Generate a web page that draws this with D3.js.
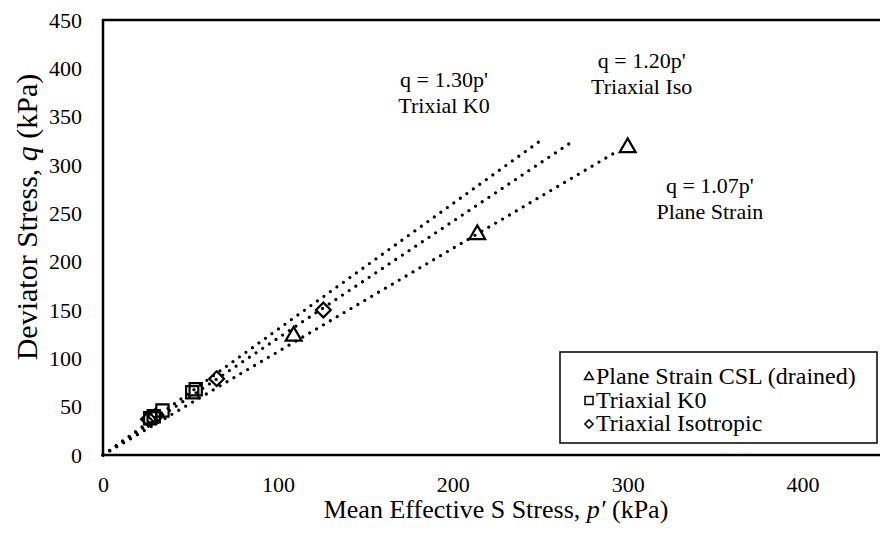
<!DOCTYPE html>
<html><head><meta charset="utf-8">
<script src="https://cdn.jsdelivr.net/npm/d3@7"></script>
<style>html,body{margin:0;padding:0;background:#fff;overflow:hidden}text{font-family:"Liberation Serif","Times New Roman",serif;fill:#000}</style>
</head><body><svg id="c" width="880" height="536"></svg>
<script>
const xTicks = [0, 100, 200, 300, 400];
const yTicks = [0, 50, 100, 150, 200, 250, 300, 350, 400, 450];
const planeStrain = [[109, 123], [214, 228], [300, 318]];
const triaxialK0 = [[27, 38], [29, 40], [34, 46], [51, 65], [53, 68]];
const triaxialIso = [[26, 37], [30, 40], [65, 79], [126, 150]];
const lineK0 = [[0, 0], [250, 325]];
const lineIso = [[0, 0], [269, 325]];
const linePS = [[0, 0], [292, 312]];
const legendLabels = ["Plane Strain CSL (drained)", "Triaxial K0", "Triaxial Isotropic"];
const annotations = [
  {p: 195, q: 381, lines: ["q = 1.30p'", "Trixial K0"]},
  {p: 308, q: 400, lines: ["q = 1.20p'", "Triaxial Iso"]},
  {p: 347, q: 271, lines: ["q = 1.07p'", "Plane Strain"]}
];

const svg = d3.select("#c");
const L = 103, T = 20, B = 455, R = 890;
const x = d3.scaleLinear().domain([0, 450]).range([L, R]);
const y = d3.scaleLinear().domain([0, 450]).range([B, T]);

// axes (labels only)
const xa = svg.append("g").attr("transform", `translate(0,${B})`)
  .call(d3.axisBottom(x).tickValues(xTicks).tickSize(0).tickPadding(21));
const ya = svg.append("g").attr("transform", `translate(${L},0)`)
  .call(d3.axisLeft(y).tickValues(yTicks).tickSize(0).tickPadding(21));
[xa, ya].forEach(a => { a.select(".domain").remove();
  a.selectAll("text").attr("font-family", "Liberation Serif").attr("font-size", 22).attr("fill", "#000"); });

// plot border
svg.append("rect").attr("x", L).attr("y", T).attr("width", R - L).attr("height", B - T)
  .attr("fill", "none").attr("stroke", "#000").attr("stroke-width", 2.5);

// dotted lines
const line = d3.line().x(d => x(d[0])).y(d => y(d[1]));
[lineK0, lineIso, linePS].forEach(dat => {
  svg.append("path").attr("d", line(dat)).attr("fill", "none").attr("stroke", "#000")
    .attr("stroke-width", 3.3).attr("stroke-linecap", "round").attr("stroke-dasharray", "0 8");
});

// markers
const tri = d3.symbol().type(d3.symbolTriangle).size(110);
const sq = d3.symbol().type(d3.symbolSquare).size(150);
const dia = d3.symbol().type(d3.symbolSquare).size(110);
function drawMarkers(data, gen, rot) {
  svg.append("g").selectAll("path").data(data).join("path")
    .attr("d", gen).attr("transform", d => `translate(${x(d[0])},${y(d[1])}) rotate(${rot})`)
    .attr("fill", "none").attr("stroke", "#000").attr("stroke-width", 2.2);
}
drawMarkers(planeStrain, tri, 0);
drawMarkers(triaxialK0, sq, 0);
drawMarkers(triaxialIso, dia, 45);

// annotations
annotations.forEach(a => {
  const t = svg.append("text").attr("text-anchor", "middle").attr("font-size", 22);
  a.lines.forEach((s, i) => t.append("tspan").attr("x", x(a.p)).attr("y", y(a.q) + i * 26).text(s));
});

// legend
const lg = svg.append("g").attr("transform", "translate(560,352)");
lg.append("rect").attr("width", 317).attr("height", 91).attr("fill", "#fff")
  .attr("stroke", "#000").attr("stroke-width", 1.5);
const gens = [[d3.symbol().type(d3.symbolTriangle).size(34), 0],
              [d3.symbol().type(d3.symbolSquare).size(64), 0],
              [d3.symbol().type(d3.symbolSquare).size(34), 45]];
legendLabels.forEach((s, i) => {
  const cy = 24 + i * 23.5;
  lg.append("path").attr("d", gens[i][0]).attr("transform", `translate(29,${cy + 1}) rotate(${gens[i][1]})`)
    .attr("fill", "none").attr("stroke", "#000").attr("stroke-width", 1.5);
  lg.append("text").attr("x", 36).attr("y", cy + 8).attr("font-size", 24).text(s);
});

// axis titles
const xt = svg.append("text").attr("x", 496).attr("y", 518).attr("text-anchor", "middle").attr("font-size", 26);
xt.append("tspan").text("Mean Effective S Stress, ");
xt.append("tspan").attr("font-style", "italic").text("p\u2032");
xt.append("tspan").text(" (kPa)");
const yt = svg.append("text").attr("transform", "translate(37,217) rotate(-90)").attr("text-anchor", "middle").attr("font-size", 30);
yt.append("tspan").text("Deviator Stress, ");
yt.append("tspan").attr("font-style", "italic").text("q");
yt.append("tspan").text(" (kPa)");
</script></body></html>
